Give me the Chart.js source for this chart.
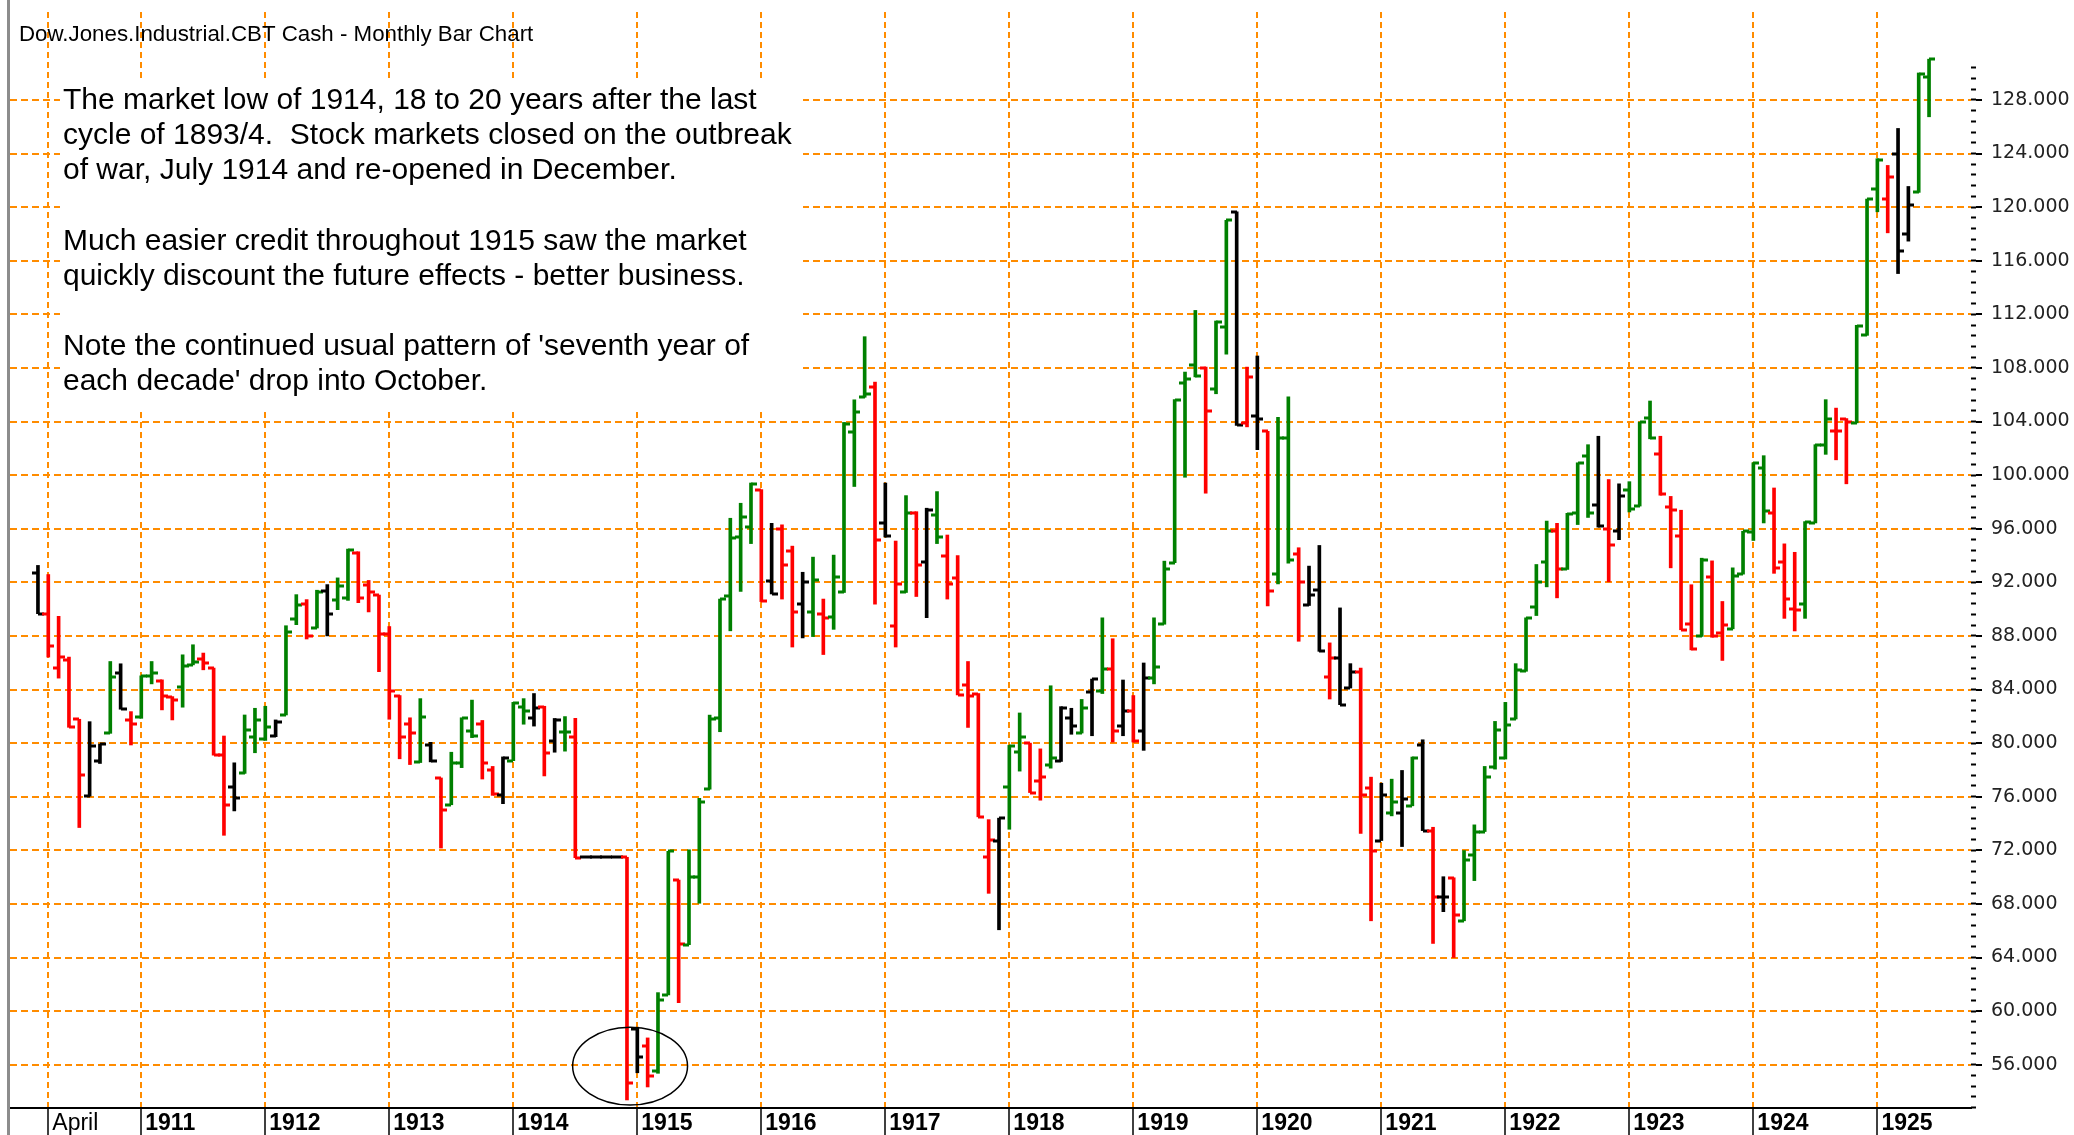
<!DOCTYPE html>
<html>
<head>
<meta charset="utf-8">
<title>Dow Jones Monthly Bar Chart</title>
<script src="https://cdn.jsdelivr.net/npm/chart.js@4.4.1/dist/chart.umd.min.js"></script>
<style>
  html, body { margin: 0; padding: 0; background: #fff; }
  canvas { display: block; }
</style>
</head>
<body>
<canvas id="barChart" width="2074" height="1135"></canvas>
<script>
// monthly bars, first bar = March 1910
const firstYear = 1910;
const firstMonth = 3;

const opens = [
  92.70, 89.66, 85.60, 86.20, 81.78, 76.04, 78.70, 80.73, 85.20, 81.70,
  81.97, 85.00, 84.60, 83.47, 84.22, 85.84, 86.30, 85.60, 79.10, 76.74,
  77.74, 80.48, 80.30, 80.50, 82.10, 89.26, 90.40, 88.60, 91.33, 90.70,
  90.80, 94.20, 91.80, 91.05, 88.13, 83.55, 81.41, 78.60, 79.83, 77.40,
  75.40, 78.55, 80.90, 81.41, 77.97, 76.10, 78.69, 82.70, 81.90, 82.70,
  80.18, 80.83, 80.46, 71.50, 71.50, 71.50, 71.50, 71.48, 58.70, 57.43,
  55.50, 61.20, 69.78, 64.96, 70.04, 76.56, 81.90, 91.00, 95.40, 96.14,
  98.92, 92.07, 96.00, 94.33, 90.37, 89.81, 89.62, 89.43, 91.24, 103.18,
  105.81, 106.56, 96.40, 88.76, 91.30, 97.15, 93.50, 97.00, 94.00, 92.30,
  84.30, 83.70, 71.50, 72.70, 76.75, 79.35, 80.00, 77.18, 78.40, 78.63,
  81.89, 80.75, 83.80, 83.92, 85.50, 81.27, 82.36, 80.91, 84.89, 88.87,
  93.47, 106.86, 108.24, 108.00, 106.43, 111.06, 119.60, 103.90, 104.40, 103.26,
  92.62, 102.77, 94.08, 90.30, 91.46, 84.93, 86.36, 84.11, 85.28, 76.64,
  72.73, 74.80, 74.77, 75.32, 79.88, 73.47, 68.49, 69.91, 66.74, 71.65,
  73.40, 78.20, 78.90, 81.80, 85.36, 90.17, 93.51, 95.83, 92.96, 97.16,
  101.45, 97.78, 96.00, 95.81, 98.88, 97.69, 104.28, 101.55, 97.60, 95.43,
  88.90, 87.96, 92.36, 88.21, 88.53, 92.61, 95.74, 100.50, 97.16, 93.55,
  90.03, 90.41, 96.43, 102.27, 103.27, 104.22, 103.90, 110.43, 121.32, 120.60,
  123.98, 118.02, 121.10, 129.70
];

const highs = [
  93.26, 92.58, 89.46, 86.42, 81.78, 81.60, 79.93, 86.09, 85.92, 82.35,
  85.02, 86.09, 84.72, 83.47, 86.59, 87.34, 86.72, 85.60, 80.53, 78.53,
  82.10, 82.60, 82.75, 81.73, 88.76, 91.08, 90.71, 91.41, 91.83, 92.33,
  94.48, 94.28, 92.14, 91.05, 88.70, 83.55, 81.89, 83.32, 80.06, 77.40,
  79.32, 81.89, 83.21, 81.69, 78.26, 78.97, 83.04, 83.32, 83.70, 82.75,
  81.84, 81.98, 81.85, 71.50, 71.50, 71.50, 71.50, 71.48, 58.80, 58.00,
  61.38, 71.93, 69.78, 72.04, 75.88, 82.09, 90.75, 96.78, 97.90, 99.41,
  98.92, 96.40, 96.29, 94.70, 92.75, 93.88, 90.75, 94.03, 103.93, 105.62,
  110.33, 106.94, 99.41, 95.08, 98.47, 97.27, 97.53, 98.77, 95.53, 94.00,
  86.09, 83.70, 74.29, 74.40, 79.83, 82.25, 80.00, 79.57, 84.28, 82.72,
  82.60, 83.26, 84.78, 89.35, 87.79, 84.71, 83.55, 85.98, 89.35, 93.58,
  105.63, 107.69, 112.29, 108.06, 111.50, 119.02, 119.64, 108.06, 108.89, 103.26,
  104.31, 105.84, 94.58, 93.21, 94.75, 87.48, 90.09, 85.93, 85.60, 77.46,
  77.01, 77.31, 77.96, 78.96, 80.25, 73.72, 70.03, 69.95, 71.98, 73.90,
  78.26, 81.62, 83.04, 85.93, 89.35, 93.33, 96.57, 96.40, 97.15, 100.92,
  102.27, 102.90, 99.67, 99.35, 99.51, 103.96, 105.53, 102.90, 98.41, 97.38,
  91.82, 93.80, 93.60, 90.57, 93.08, 95.81, 100.92, 101.45, 99.04, 94.87,
  94.24, 96.53, 102.27, 105.63, 105.00, 104.22, 111.18, 120.60, 123.61, 123.11,
  125.87, 121.54, 130.01, 131.04
];

const lows = [
  89.66, 86.42, 84.85, 81.18, 73.70, 76.04, 78.48, 80.73, 82.53, 79.86,
  81.85, 84.42, 82.48, 81.73, 82.68, 85.84, 85.47, 79.10, 73.12, 74.94,
  77.74, 79.28, 80.20, 80.48, 82.10, 88.84, 87.77, 88.59, 88.00, 89.96,
  90.65, 90.48, 89.79, 85.33, 81.78, 78.83, 78.40, 78.55, 78.60, 72.17,
  75.40, 78.17, 80.41, 77.32, 76.10, 75.48, 78.69, 81.41, 81.27, 77.55,
  79.32, 79.40, 71.45, 71.50, 71.50, 71.50, 71.50, 53.37, 55.40, 54.34,
  55.36, 61.20, 60.63, 64.96, 68.05, 76.56, 80.85, 88.38, 91.32, 94.89,
  90.56, 91.13, 90.75, 87.17, 87.85, 87.95, 86.61, 88.49, 91.24, 99.15,
  105.81, 90.37, 95.38, 87.17, 91.24, 90.94, 89.36, 94.89, 90.75, 83.60,
  81.17, 74.50, 68.79, 66.07, 73.57, 77.91, 76.31, 75.74, 78.13, 78.63,
  80.66, 80.75, 80.55, 83.70, 80.08, 80.55, 80.08, 79.46, 84.42, 88.87,
  93.47, 99.84, 107.33, 98.65, 106.07, 109.03, 103.71, 103.60, 101.90, 90.24,
  91.88, 93.43, 87.60, 90.27, 86.85, 83.29, 82.87, 84.11, 73.27, 66.74,
  72.73, 74.57, 72.28, 75.32, 73.47, 65.05, 67.42, 64.00, 66.74, 69.74,
  73.40, 78.06, 78.81, 81.80, 85.36, 89.52, 91.66, 90.84, 92.96, 96.31,
  96.84, 96.12, 92.04, 95.18, 97.25, 97.69, 102.71, 98.50, 93.08, 88.46,
  86.96, 87.96, 87.90, 86.17, 88.53, 92.61, 95.12, 96.43, 92.67, 89.31,
  88.37, 89.31, 96.43, 101.55, 101.14, 99.35, 103.90, 110.43, 119.65, 118.08,
  115.04, 117.46, 121.10, 126.74
];

const closes = [
  89.66, 87.22, 86.42, 81.18, 77.60, 79.78, 79.90, 84.97, 82.53, 81.40,
  85.02, 85.20, 83.50, 83.20, 85.77, 86.02, 86.00, 79.10, 75.37, 75.87,
  81.00, 81.73, 81.20, 81.60, 88.30, 90.33, 87.97, 91.30, 89.66, 91.76,
  94.40, 90.85, 91.30, 88.13, 83.90, 80.46, 80.75, 81.98, 78.65, 75.03,
  78.55, 81.89, 80.50, 78.55, 76.17, 78.90, 83.00, 82.41, 82.60, 79.26,
  81.70, 80.83, 71.45, 71.50, 71.50, 71.50, 71.50, 54.66, 56.60, 55.17,
  60.82, 71.93, 65.04, 70.04, 75.58, 81.80, 90.75, 95.27, 96.90, 99.30,
  90.64, 91.13, 93.27, 89.81, 92.00, 92.14, 89.36, 92.37, 103.80, 104.68,
  106.08, 95.16, 95.46, 91.88, 97.15, 93.27, 97.40, 95.38, 91.88, 83.60,
  83.50, 74.50, 72.77, 74.40, 79.80, 80.44, 76.31, 77.47, 78.90, 82.60,
  81.27, 82.60, 84.78, 85.50, 80.91, 82.36, 80.19, 84.89, 85.70, 92.96,
  105.63, 107.15, 107.40, 104.80, 111.42, 119.02, 103.71, 107.33, 104.18, 91.34,
  102.77, 93.68, 92.03, 91.05, 86.85, 86.36, 82.87, 85.28, 76.14, 71.98,
  76.14, 75.60, 75.82, 78.88, 73.47, 68.49, 68.49, 67.17, 71.28, 73.40,
  77.46, 81.00, 81.37, 85.43, 89.35, 92.01, 95.83, 92.96, 97.07, 100.92,
  97.16, 96.21, 94.80, 98.41, 97.47, 103.96, 102.80, 98.57, 97.40, 88.46,
  87.02, 93.70, 87.96, 88.78, 92.45, 95.81, 100.92, 97.31, 93.08, 90.72,
  89.94, 96.53, 102.27, 104.22, 103.27, 104.00, 111.12, 120.60, 123.51, 122.26,
  116.70, 120.16, 129.95, 131.04
];

// bottom axis: label and the month it sits on
const tickLabels = ['April', '1911', '1912', '1913', '1914', '1915', '1916', '1917',
  '1918', '1919', '1920', '1921', '1922', '1923', '1924', '1925'];
const tickDates = ['1910-04', '1911-01', '1912-01', '1913-01', '1914-01', '1915-01', '1916-01', '1917-01',
  '1918-01', '1919-01', '1920-01', '1921-01', '1922-01', '1923-01', '1924-01', '1925-01'];

// price axis
const priceMin = 52.77;
const priceMax = 134.56;
const priceLabelMin = 56;
const priceLabelMax = 128;
const priceStep = 4;
const minorStep = 0.8;
const minorTop = 130.4;

const title = 'Dow.Jones.Industrial.CBT Cash - Monthly Bar Chart';
const notes = [
  'The market low of 1914, 18 to 20 years after the last',
  'cycle of 1893/4.  Stock markets closed on the outbreak',
  'of war, July 1914 and re-opened in December.',
  '',
  'Much easier credit throughout 1915 saw the market',
  'quickly discount the future effects - better business.',
  '',
  'Note the continued usual pattern of \'seventh year of',
  'each decade\' drop into October.'
];

// the 1914 low that is circled (month index, price, half width in months, half height in price)
const circled = { month: 57.3, price: 55.9, monthSpan: 5.56, priceSpan: 2.9 };

const GREEN = '#008000';
const RED = '#ff0000';
const BLACK = '#000000';
const ORANGE = '#ff8c00';

const monthIndex = (s) => {
  const [yy, mm] = s.split('-').map(Number);
  return (yy - firstYear) * 12 + (mm - firstMonth);
};
const tickMonths = tickDates.map(monthIndex);

const stepsBetween = (from, to, step) => {
  const out = [];
  for (let n = Math.ceil(from / step - 1e-9); n * step <= to + 1e-9; n++) {
    out.push({ value: Math.round(n * step * 100) / 100 });
  }
  return out;
};

// no extra room for labels that sit well inside the plot
const noLabelPadding = (scale) => {
  scale.paddingTop = 0;
  scale.paddingBottom = 0;
  scale.paddingLeft = 0;
  scale.paddingRight = 0;
};

// green = higher high and higher low, red = lower high and lower low, else black
const barColors = highs.map((h, i) => {
  if (i === 0) return BLACK;
  if (h > highs[i - 1] && lows[i] > lows[i - 1]) return GREEN;
  if (h < highs[i - 1] && lows[i] < lows[i - 1]) return RED;
  return BLACK;
});

const openCloseTicks = {
  id: 'openCloseTicks',
  afterDatasetsDraw(chart) {
    const { ctx, chartArea } = chart;
    const x = chart.scales.x;
    const y = chart.scales.y;
    ctx.save();
    ctx.beginPath();
    ctx.rect(chartArea.left, chartArea.top, chartArea.right - chartArea.left, chartArea.bottom - chartArea.top);
    ctx.clip();
    opens.forEach((o, i) => {
      const px = Math.round(x.getPixelForValue(i));
      ctx.fillStyle = barColors[i];
      ctx.fillRect(px - 6, Math.round(y.getPixelForValue(o)) - 1.5, 6, 3);
      ctx.fillRect(px, Math.round(y.getPixelForValue(closes[i])) - 1.5, 6, 3);
    });
    // circle round the 1914 low
    const cx = x.getPixelForValue(circled.month);
    const cy = y.getPixelForValue(circled.price);
    const rx = x.getPixelForValue(circled.month + circled.monthSpan) - cx;
    const ry = cy - y.getPixelForValue(circled.price + circled.priceSpan);
    ctx.beginPath();
    ctx.ellipse(cx, cy, rx, ry, 0, 0, Math.PI * 2);
    ctx.strokeStyle = '#000';
    ctx.lineWidth = 1.5;
    ctx.stroke();
    ctx.restore();
  }
};

const notesBox = {
  id: 'notesBox',
  beforeDatasetsDraw(chart) {
    const { ctx } = chart;
    ctx.save();
    ctx.fillStyle = '#fff';
    ctx.fillRect(60, 80, 743, 328);
    ctx.fillStyle = '#000';
    ctx.font = '30px "Liberation Sans", Arial, sans-serif';
    ctx.textBaseline = 'middle';
    notes.forEach((line, i) => ctx.fillText(line, 63, 101 + i * 35.1));
    ctx.restore();
  },
  afterDraw(chart) {
    const { ctx, chartArea } = chart;
    ctx.save();
    ctx.fillStyle = '#000';
    ctx.font = '22.3px "Liberation Sans", Arial, sans-serif';
    ctx.textBaseline = 'middle';
    ctx.fillText(title, 19, 35);
    // grey frame on the left edge
    ctx.fillStyle = '#8c8c8c';
    ctx.fillRect(chartArea.left - 3, 0, 3, chart.height);
    ctx.restore();
  }
};

Chart.defaults.font.family = '"Liberation Sans", Arial, sans-serif';

new Chart(document.getElementById('barChart'), {
  type: 'bar',
  data: {
    datasets: [{
      data: lows.map((lo, i) => ({ x: i, y: [lo, highs[i]] })),
      backgroundColor: barColors,
      borderWidth: 0,
      barThickness: 3,
      xAxisID: 'x',
      yAxisID: 'y'
    }]
  },
  options: {
    responsive: false,
    animation: false,
    devicePixelRatio: 1,
    layout: { padding: { left: 10, top: 12, right: 0, bottom: 0 } },
    plugins: {
      legend: { display: false },
      tooltip: { enabled: false },
      title: { display: false }
    },
    scales: {
      x: {
        type: 'linear',
        bounds: 'data',
        min: -2.705,
        max: 187.06,
        offset: false,
        afterBuildTicks: (scale) => {
          scale.ticks = tickMonths.map((m) => ({ value: m }));
        },
        afterFit: (scale) => { scale.height = 27; noLabelPadding(scale); },
        ticks: {
          autoSkip: false,
          maxRotation: 0,
          align: 'start',
          labelOffset: 4,
          padding: -25,
          color: '#000',
          font: (c) => ({
            family: '"Liberation Sans", Arial, sans-serif',
            size: 23,
            weight: c.index === 0 ? 'normal' : 'bold'
          }),
          callback: (value) => tickLabels[tickMonths.indexOf(value)]
        },
        grid: {
          offset: false,
          color: ORANGE,
          lineWidth: 2,
          tickLength: 27,
          tickColor: '#000',
          tickWidth: 1.5,
          tickBorderDash: []
        },
        border: { display: true, color: '#000', width: 2, dash: [6, 4] }
      },
      y: {
        type: 'linear',
        position: 'right',
        weight: 1,
        bounds: 'data',
        min: priceMin,
        max: priceMax,
        beginAtZero: false,
        afterBuildTicks: (scale) => {
          scale.ticks = stepsBetween(priceLabelMin, priceLabelMax, priceStep);
        },
        afterFit: (scale) => { scale.width = 98; noLabelPadding(scale); },
        ticks: {
          autoSkip: false,
          padding: 9,
          color: '#222',
          font: { family: '"DejaVu Sans", Verdana, sans-serif', size: 19 },
          callback: (value) => value.toFixed(3)
        },
        grid: {
          color: ORANGE,
          lineWidth: 2,
          tickLength: 6,
          tickWidth: 2,
          tickColor: '#000',
          tickBorderDash: []
        },
        border: { display: false, dash: [7, 4] }
      },
      yMinor: {
        type: 'linear',
        position: 'right',
        weight: 0,
        bounds: 'data',
        min: priceMin,
        max: priceMax,
        afterBuildTicks: (scale) => {
          scale.ticks = stepsBetween(priceMin, minorTop, minorStep);
        },
        afterFit: (scale) => { scale.width = 5; noLabelPadding(scale); },
        ticks: { display: false, autoSkip: false },
        grid: {
          drawOnChartArea: false,
          tickLength: 5,
          tickWidth: 2,
          tickColor: '#000'
        },
        border: { display: false }
      }
    }
  },
  plugins: [notesBox, openCloseTicks]
});
</script>
</body>
</html>
